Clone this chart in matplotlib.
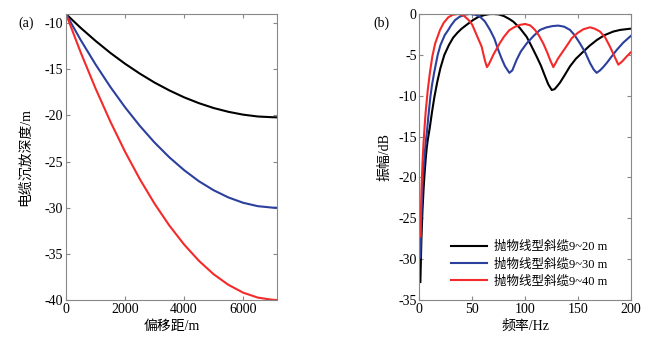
import numpy as np
import matplotlib
matplotlib.use("Agg")
import matplotlib.pyplot as plt

plt.rcParams['font.family'] = ['Liberation Serif', 'Noto Sans CJK SC']
plt.rcParams['font.size'] = 10
plt.rcParams['axes.unicode_minus'] = False

# (a) cable depth vs offset
offset = [0, 500, 1000, 1500, 2000, 2500, 3000, 3500, 4000, 4500,
          5000, 5500, 6000, 6500, 7000, 7150]
depth_20 = [-9.0, -10.51, -11.91, -13.21, -14.39, -15.46, -16.43, -17.28,
            -18.03, -18.66, -19.19, -19.60, -19.91, -20.11, -20.19, -20.2]
depth_30 = [-9.0, -11.83, -14.46, -16.89, -19.11, -21.12, -22.93, -24.53,
            -25.92, -27.12, -28.10, -28.88, -29.46, -29.83, -29.99, -30.0]
depth_40 = [-9.0, -13.18, -17.06, -20.64, -23.92, -26.89, -29.56, -31.92,
            -33.98, -35.74, -37.20, -38.35, -39.20, -39.74, -39.98, -40.0]

# (b) amplitude spectra
f_20 = [1, 2, 3, 4, 5, 6, 7, 8, 9.8, 12, 14.2, 17, 20, 23.7, 28, 32, 36, 40,
        45, 51, 56, 62, 66, 70, 75, 80, 85, 88.9, 95, 101.6, 106, 111, 115,
        118.9, 122, 125.3, 128, 130, 133.1, 137, 142.6, 148, 155.2, 161,
        167.8, 175, 183.5, 190, 197.7, 200]
a_20 = [-32.8, -27.5, -24.0, -21.5, -19.5, -17.8, -16.4, -15.4, -14.0, -12.0,
        -10.2, -8.3, -6.6, -5.0, -3.8, -2.9, -2.3, -1.8, -1.3, -0.73, -0.35,
        -0.12, -0.02, 0.0, -0.05, -0.25, -0.6, -0.93, -1.7, -2.8, -3.9, -5.2,
        -6.3, -7.6, -8.6, -9.3, -9.2, -8.9, -8.4, -7.6, -6.4, -5.5, -4.6,
        -3.9, -3.2, -2.6, -2.15, -1.95, -1.83, -1.8]

f_30 = [1, 2, 3, 4, 5, 6, 7.3, 8.5, 10.4, 12, 14, 17.4, 20, 24, 27.4, 30,
        33.8, 38, 43, 48, 53, 57.4, 62, 66.9, 71, 74.7, 78, 81.1, 85.2, 88,
        92.1, 96, 101.6, 108, 114.2, 120, 126, 131.5, 137, 142.6, 147, 152,
        157, 161.5, 165, 167.8, 171, 174, 177.3, 182, 186.8, 193, 200]
a_30 = [-29.8, -24.5, -21.2, -19.0, -17.3, -15.8, -14.3, -12.6, -10.2, -8.7,
        -7.2, -5.0, -3.8, -2.6, -1.95, -1.4, -0.75, -0.35, -0.08, 0.0, -0.1,
        -0.33, -0.9, -1.95, -3.0, -4.4, -5.5, -6.4, -7.2, -6.9, -5.6, -4.6,
        -3.6, -2.7, -1.95, -1.65, -1.48, -1.42, -1.55, -1.95, -2.6, -3.6,
        -4.7, -6.0, -6.8, -7.2, -6.9, -6.5, -6.0, -5.2, -4.4, -3.5, -2.7]

f_40 = [1, 2, 3, 4, 5, 6, 8, 10, 12.3, 15, 19.6, 23, 27.4, 32, 37, 42, 46.4,
        50, 54, 57, 59, 60.6, 62.3, 64, 66, 70, 73, 76, 80, 85, 90, 95, 100,
        105, 109.5, 113, 117.3, 121, 123.7, 126.8, 129, 131, 134.7, 140,
        144.2, 150, 155.2, 161.5, 166, 171, 176, 180.4, 184, 188.3, 192,
        196.2, 200]
a_40 = [-27.2, -21.5, -18.2, -15.8, -13.8, -12.0, -9.3, -7.2, -5.2, -3.6,
        -1.95, -1.1, -0.4, -0.08, 0.0, -0.2, -0.7, -1.3, -2.5, -3.4, -4.0,
        -4.9, -5.8, -6.5, -6.1, -5.0, -4.3, -3.6, -2.8, -2.0, -1.6, -1.34,
        -1.22, -1.4, -1.95, -2.6, -3.6, -4.7, -5.6, -6.5, -6.0, -5.5, -4.8,
        -3.8, -2.97, -2.3, -1.87, -1.63, -1.8, -2.15, -2.9, -4.0, -5.0, -6.2,
        -5.8, -5.2, -4.7]

labels = ['抛物线型斜缆9~20 m', '抛物线型斜缆9~30 m', '抛物线型斜缆9~40 m']
colors = ['black', '#2b3f9e', '#f42a2a']


def style_axes(ax):
    """inward ticks on all sides, grey frame"""
    ax.tick_params(direction='in', length=3, top=True, right=True,
                   color='#888888', pad=2)
    for s in ax.spines.values():
        s.set_color('#888888')
        s.set_linewidth(0.8)


fig = plt.figure(figsize=(6.56, 3.38), dpi=100)
ax1 = fig.add_axes([0.1006, 0.1124, 0.3217, 0.8462])
ax2 = fig.add_axes([0.6392, 0.1124, 0.3222, 0.8462])

for y, c in zip([depth_20, depth_30, depth_40], colors):
    ax1.plot(offset, y, color=c, lw=1.5)
ax1.set_xlim(0, 7150)
ax1.set_ylim(-40, -9)
ax1.set_xticks([0, 2000, 4000, 6000])
ax1.set_yticks([-40, -35, -30, -25, -20, -15, -10])
ax1.set_xlabel('偏移距/m')
ax1.set_ylabel('电缆沉放深度/m')
ax1.xaxis.set_label_coords(0.5, -0.07)
ax1.yaxis.set_label_coords(-0.16, 0.5)
style_axes(ax1)
fig.text(18 / 656, 1 - 23 / 338, '(a)', ha='left', va='center')

for f, a, c, lab in zip([f_20, f_30, f_40], [a_20, a_30, a_40], colors, labels):
    ax2.plot(f, a, color=c, lw=1.5, label=lab)
ax2.set_xlim(0, 200)
ax2.set_ylim(-35, 0)
ax2.set_xticks([0, 50, 100, 150, 200])
ax2.set_yticks([-35, -30, -25, -20, -15, -10, -5, 0])
ax2.set_xlabel('频率/Hz')
ax2.set_ylabel('振幅/dB')
ax2.xaxis.set_label_coords(0.5, -0.07)
ax2.yaxis.set_label_coords(-0.13, 0.5)
style_axes(ax2)
ax2.legend(loc='upper left', bbox_to_anchor=(0.15, 0.207), frameon=False,
           fontsize=9, handlelength=2.9, handletextpad=0.5, labelspacing=0.4,
           borderpad=0, borderaxespad=0)
fig.text(373 / 656, 1 - 23 / 338, '(b)', ha='left', va='center')

fig.savefig('out.png', dpi=100)
